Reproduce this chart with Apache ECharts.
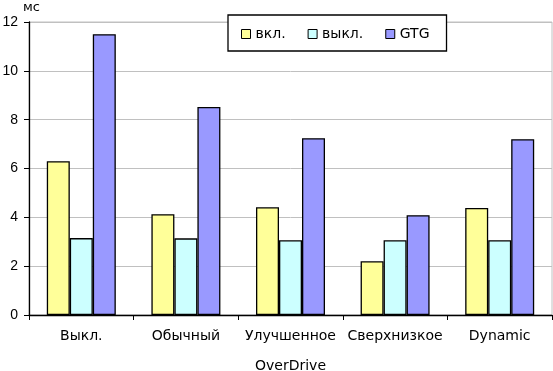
<!DOCTYPE html>
<html><head><meta charset="utf-8">
<script src="https://cdn.jsdelivr.net/npm/echarts@6/dist/echarts.min.js"></script>
<style>html,body{margin:0;padding:0;background:#fff}#c{width:553px;height:371px}</style>
</head><body><div id="c"></div>
<script>
const categories = ['Выкл.', 'Обычный', 'Улучшенное', 'Сверхнизкое', 'Dynamic'];
const seriesNames = ['вкл.', 'выкл.', 'GTG'];
const vkl = [6.3, 4.13, 4.41, 2.2, 4.38];
const vykl = [3.15, 3.14, 3.06, 3.06, 3.06];
const gtg = [11.5, 8.52, 7.24, 4.09, 7.2];
const colors = ['#ffff99', '#ccffff', '#9999ff'];
const yTicks = [0, 2, 4, 6, 8, 10, 12];

const font = 'DejaVu Sans, sans-serif';
const numFont = 'Liberation Sans, Arial, sans-serif';
const chart = echarts.init(document.getElementById('c'));
const mk = (name, data, color) => ({
  name, type: 'bar', data, barWidth: 23, barGap: '0%',
  itemStyle: { color, borderColor: '#000', borderWidth: 1.3 },
  emphasis: { disabled: true }
});
chart.setOption({
  animation: false,
  textStyle: { fontFamily: font },
  grid: { left: 29, right: 1, top: 22, bottom: 56, show: true, borderColor: '#c0c0c0', borderWidth: 1,
          containLabel: false, outerBoundsMode: 'none' },
  legend: {
    data: seriesNames, left: 228, top: 15,
    padding: [12, 17, 10, 13],
    itemWidth: 9, itemHeight: 9, itemGap: 22,
    borderColor: '#000', borderWidth: 1.3, backgroundColor: '#fff',
    icon: 'rect',
    itemStyle: { borderColor: '#000', borderWidth: 1 },
    textStyle: { fontFamily: font, fontSize: 14, color: '#000' }
  },
  xAxis: {
    type: 'category', data: categories,
    name: 'OverDrive', nameLocation: 'middle', nameGap: 44,
    nameTextStyle: { fontFamily: font, fontSize: 14, color: '#000' },
    axisLine: { lineStyle: { color: '#000', width: 1.3 } },
    axisTick: { show: true, length: 5, lineStyle: { color: '#000' } },
    axisLabel: { fontFamily: font, fontSize: 14, color: '#000', margin: 14, interval: 0 },
    splitLine: { show: false }
  },
  yAxis: {
    type: 'value', min: yTicks[0], max: yTicks[yTicks.length - 1], interval: 2,
    name: 'мс', nameGap: 8,
    nameTextStyle: { fontFamily: font, fontSize: 13, color: '#000', align: 'left', padding: [0, 0, 0, -6] },
    axisLine: { show: true, lineStyle: { color: '#000', width: 1.3 } },
    axisTick: { show: true, length: 5, inside: false, lineStyle: { color: '#000' } },
    axisLabel: { fontFamily: numFont, fontSize: 14, color: '#000', margin: 11 },
    splitLine: { lineStyle: { color: '#c0c0c0', width: 1 } }
  },
  series: [mk(seriesNames[0], vkl, colors[0]), mk(seriesNames[1], vykl, colors[1]), mk(seriesNames[2], gtg, colors[2])]
});
</script></body></html>
